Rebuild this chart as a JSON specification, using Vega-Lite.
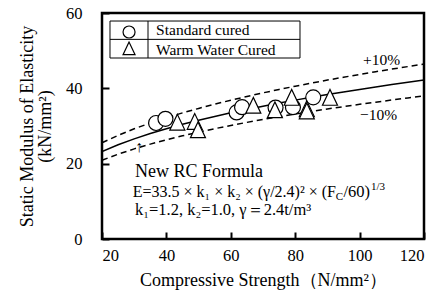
{
  "$schema": "https://vega.github.io/schema/vega-lite/v6.json",
  "width": 322,
  "height": 226,
  "autosize": {"type": "none"},
  "padding": {"left": 102, "top": 13, "right": 23, "bottom": 59},
  "background": "white",
  "config": {
    "font": "Liberation Serif",
    "view": {"stroke": "black", "strokeWidth": 2.5},
    "axis": {
      "domain": false, "grid": false, "tickColor": "black", "tickWidth": 2, "tickSize": -7,
      "labelFont": "Liberation Serif", "labelFontSize": 16.5, "labelColor": "black",
      "titleFont": "Liberation Serif", "titleFontSize": 18, "titleFontWeight": "normal", "titleColor": "black"
    },
    "text": {"font": "Liberation Serif", "color": "black"}
  },
  "datasets": {
    "curve": [
      {"fc": 20, "mid": 23.23, "upper": 25.55, "lower": 20.91},
      {"fc": 25, "mid": 25.02, "upper": 27.52, "lower": 22.52},
      {"fc": 30, "mid": 26.59, "upper": 29.25, "lower": 23.93},
      {"fc": 35, "mid": 27.99, "upper": 30.79, "lower": 25.19},
      {"fc": 40, "mid": 29.27, "upper": 32.20, "lower": 26.34},
      {"fc": 45, "mid": 30.44, "upper": 33.48, "lower": 27.40},
      {"fc": 50, "mid": 31.52, "upper": 34.67, "lower": 28.37},
      {"fc": 55, "mid": 32.54, "upper": 35.79, "lower": 29.29},
      {"fc": 60, "mid": 33.50, "upper": 36.85, "lower": 30.15},
      {"fc": 65, "mid": 34.40, "upper": 37.84, "lower": 30.96},
      {"fc": 70, "mid": 35.27, "upper": 38.80, "lower": 31.74},
      {"fc": 75, "mid": 36.09, "upper": 39.70, "lower": 32.48},
      {"fc": 80, "mid": 36.87, "upper": 40.56, "lower": 33.18},
      {"fc": 85, "mid": 37.62, "upper": 41.38, "lower": 33.86},
      {"fc": 90, "mid": 38.35, "upper": 42.19, "lower": 34.52},
      {"fc": 95, "mid": 39.04, "upper": 42.94, "lower": 35.14},
      {"fc": 100, "mid": 39.72, "upper": 43.69, "lower": 35.75},
      {"fc": 105, "mid": 40.37, "upper": 44.41, "lower": 36.33},
      {"fc": 110, "mid": 41.00, "upper": 45.10, "lower": 36.90},
      {"fc": 115, "mid": 41.61, "upper": 45.77, "lower": 37.45},
      {"fc": 120, "mid": 42.21, "upper": 46.43, "lower": 37.99}
    ],
    "points": [
      {"curing": "Standard cured", "fc": 36.8, "e": 30.8},
      {"curing": "Standard cured", "fc": 39.7, "e": 31.9},
      {"curing": "Standard cured", "fc": 61.8, "e": 33.6},
      {"curing": "Standard cured", "fc": 63.5, "e": 35.0},
      {"curing": "Standard cured", "fc": 73.9, "e": 34.9},
      {"curing": "Standard cured", "fc": 79.3, "e": 35.0},
      {"curing": "Standard cured", "fc": 85.6, "e": 37.6},
      {"curing": "Warm Water Cured", "fc": 43.4, "e": 31.0},
      {"curing": "Warm Water Cured", "fc": 48.8, "e": 31.2},
      {"curing": "Warm Water Cured", "fc": 49.8, "e": 29.0},
      {"curing": "Warm Water Cured", "fc": 67.0, "e": 35.5},
      {"curing": "Warm Water Cured", "fc": 73.7, "e": 34.3},
      {"curing": "Warm Water Cured", "fc": 78.9, "e": 37.6},
      {"curing": "Warm Water Cured", "fc": 83.6, "e": 34.6},
      {"curing": "Warm Water Cured", "fc": 83.6, "e": 34.0},
      {"curing": "Warm Water Cured", "fc": 90.8, "e": 37.6}
    ],
    "one": [{}]
  },
  "layer": [
    {
      "data": {"name": "curve"},
      "mark": {"type": "line", "color": "black", "strokeWidth": 1.5, "clip": true},
      "encoding": {
        "x": {"field": "fc", "type": "quantitative", "scale": {"domain": [20, 120], "nice": false},
              "axis": {"values": [20, 40, 60, 80, 100, 120], "labelPadding": 15, "labelFont": "Liberation Serif", "titleFont": "Liberation Serif", "title": "Compressive Strength（N/mm²）", "titlePadding": 8}},
        "y": {"field": "mid", "type": "quantitative", "scale": {"domain": [0, 60], "nice": false},
              "axis": {"values": [0, 20, 40, 60], "labelPadding": 27, "labelFont": "Liberation Serif", "titleFont": "Liberation Serif", "title": ["Static Modulus of Elasticity", "(kN/mm²)"], "titlePadding": 11, "titleLineHeight": 18}}
      }
    },
    {
      "data": {"name": "curve"},
      "mark": {"type": "line", "color": "black", "strokeWidth": 1.5, "strokeDash": [6, 4]},
      "encoding": {"x": {"field": "fc", "type": "quantitative"}, "y": {"field": "upper", "type": "quantitative"}}
    },
    {
      "data": {"name": "curve"},
      "mark": {"type": "line", "color": "black", "strokeWidth": 1.5, "strokeDash": [6, 4]},
      "encoding": {"x": {"field": "fc", "type": "quantitative"}, "y": {"field": "lower", "type": "quantitative"}}
    },
    {
      "data": {"name": "points"},
      "mark": {"type": "point", "filled": true, "fill": "white", "stroke": "black", "strokeWidth": 1.2, "opacity": 1, "size": 225},
      "encoding": {
        "x": {"field": "fc", "type": "quantitative"},
        "y": {"field": "e", "type": "quantitative"},
        "shape": {"field": "curing", "type": "nominal", "scale": {"domain": ["Standard cured", "Warm Water Cured"], "range": ["circle", "M0,-1.05L-1,1.05L1,1.05Z"]}, "legend": null},
        "order": {"field": "curing"}
      }
    },
    {
      "data": {"name": "one"},
      "mark": {"type": "rect", "fill": "white", "stroke": "black", "strokeWidth": 1},
      "encoding": {"x": {"datum": 22.48}, "x2": {"datum": 81.49}, "y": {"datum": 57.87}, "y2": {"datum": 48.05}}
    },
    {
      "data": {"name": "one"},
      "mark": {"type": "rule", "color": "black", "strokeWidth": 1},
      "encoding": {"x": {"datum": 22.48}, "x2": {"datum": 81.49}, "y": {"datum": 53.0}}
    },
    {
      "data": {"name": "one"},
      "mark": {"type": "rule", "color": "black", "strokeWidth": 1},
      "encoding": {"x": {"datum": 34.29}, "y": {"datum": 57.87}, "y2": {"datum": 48.05}}
    },
    {
      "data": {"name": "one"},
      "mark": {"type": "point", "shape": "circle", "filled": true, "fill": "white", "stroke": "black", "strokeWidth": 1.2, "opacity": 1, "size": 144},
      "encoding": {"x": {"datum": 28.4}, "y": {"datum": 54.95}}
    },
    {
      "data": {"name": "one"},
      "mark": {"type": "point", "shape": "M0,-1.05L-1,1.05L1,1.05Z", "filled": true, "fill": "white", "stroke": "black", "strokeWidth": 1.2, "opacity": 1, "size": 144},
      "encoding": {"x": {"datum": 28.4}, "y": {"datum": 50.6}}
    },
    {
      "data": {"name": "one"},
      "mark": {"type": "text", "align": "left", "baseline": "alphabetic", "fontSize": 15.5},
      "encoding": {"x": {"datum": 36.8}, "y": {"datum": 54.15}, "text": {"value": "Standard cured"}}
    },
    {
      "data": {"name": "one"},
      "mark": {"type": "text", "align": "left", "baseline": "alphabetic", "fontSize": 15.5},
      "encoding": {"x": {"datum": 36.8}, "y": {"datum": 48.85}, "text": {"value": "Warm Water Cured"}}
    },
    {
      "data": {"name": "one"},
      "mark": {"type": "text", "align": "left", "baseline": "alphabetic", "fontSize": 15.5},
      "encoding": {"x": {"datum": 101.05}, "y": {"datum": 46.2}, "text": {"value": "+10%"}}
    },
    {
      "data": {"name": "one"},
      "mark": {"type": "text", "align": "left", "baseline": "alphabetic", "fontSize": 15.5},
      "encoding": {"x": {"datum": 100.1}, "y": {"datum": 31.6}, "text": {"value": "−10%"}}
    },
    {
      "data": {"name": "one"},
      "mark": {"type": "text", "align": "center", "baseline": "middle", "fontSize": 16},
      "encoding": {"x": {"datum": 31.5}, "y": {"datum": 24.5}, "text": {"value": "↑"}}
    },
    {
      "data": {"name": "one"},
      "mark": {"type": "text", "align": "left", "baseline": "alphabetic", "fontSize": 18},
      "encoding": {"x": {"datum": 30.25}, "y": {"datum": 16.5}, "text": {"value": "New RC Formula"}}
    },
    {
      "data": {"name": "one"},
      "mark": {"type": "text", "align": "right", "baseline": "alphabetic", "fontSize": 16},
      "encoding": {"x": {"datum": 92.67}, "y": {"datum": 11.2}, "text": {"value": "E=33.5 × k₁ × k₂ × (γ/2.4)² × (F"}}
    },
    {
      "data": {"name": "one"},
      "mark": {"type": "text", "align": "right", "baseline": "alphabetic", "fontSize": 11, "dy": 3},
      "encoding": {"x": {"datum": 94.84}, "y": {"datum": 11.2}, "text": {"value": "C"}}
    },
    {
      "data": {"name": "one"},
      "mark": {"type": "text", "align": "right", "baseline": "alphabetic", "fontSize": 16.5},
      "encoding": {"x": {"datum": 103.23}, "y": {"datum": 11.2}, "text": {"value": "/60)"}}
    },
    {
      "data": {"name": "one"},
      "mark": {"type": "text", "align": "left", "baseline": "alphabetic", "fontSize": 11, "dy": -7},
      "encoding": {"x": {"datum": 103.54}, "y": {"datum": 11.2}, "text": {"value": "1/3"}}
    },
    {
      "data": {"name": "one"},
      "mark": {"type": "text", "align": "left", "baseline": "alphabetic", "fontSize": 16.5},
      "encoding": {"x": {"datum": 30.25}, "y": {"datum": 6.4}, "text": {"value": "k₁=1.2,   k₂=1.0,   γ＝2.4t/m³"}}
    }
  ]
}
